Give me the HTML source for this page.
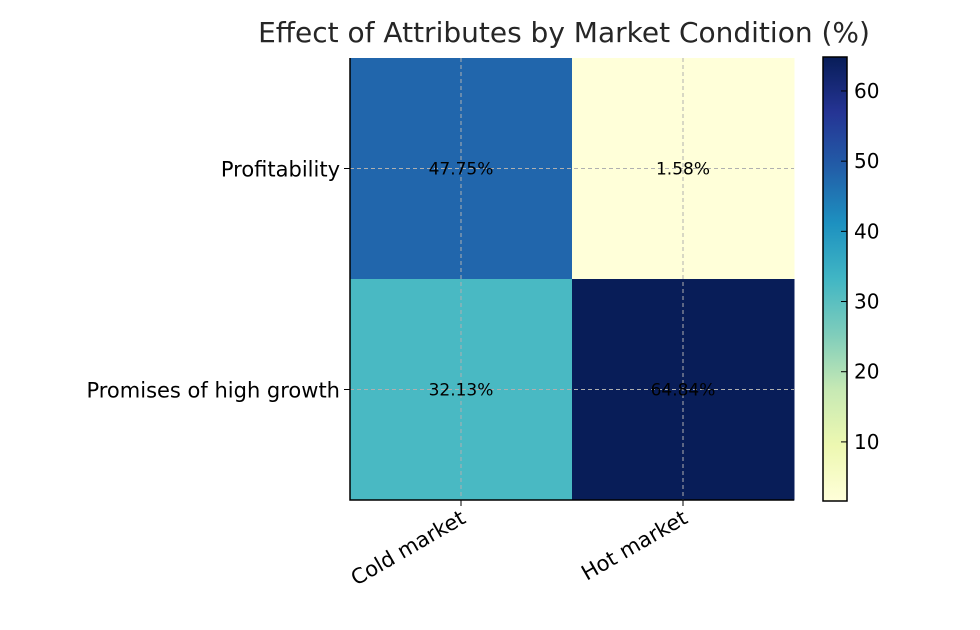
<!DOCTYPE html>
<html><head><meta charset="utf-8"><style>
body{margin:0;background:#fff}
svg{display:block;font-family:"DejaVu Sans","Liberation Sans",sans-serif}
</style></head><body>
<svg id="chart" width="980" height="630" viewBox="0 0 980 630">
<text x="564" y="42" text-anchor="middle" font-size="28" fill="#262626">Effect of Attributes by Market Condition (%)</text>
<defs><linearGradient id="cbg" x1="0" y1="1" x2="0" y2="0">
<stop offset="0" stop-color="#ffffd9"/><stop offset="0.125" stop-color="#edf8b1"/><stop offset="0.25" stop-color="#c7e9b4"/><stop offset="0.375" stop-color="#7fcdbb"/><stop offset="0.5" stop-color="#41b6c4"/><stop offset="0.625" stop-color="#1d91c0"/><stop offset="0.75" stop-color="#225ea8"/><stop offset="0.875" stop-color="#253494"/><stop offset="1" stop-color="#081d58"/></linearGradient></defs>
<g id="cells"></g><g id="grid"></g><g id="annot"></g><g id="axes"></g><g id="cbar"></g>
</svg>
<script>
const rows=["Profitability","Promises of high growth"];
const cols=["Cold market","Hot market"];
const values=[[47.75,1.58],[32.13,64.84]];
const cbTicks=[10,20,30,40,50,60];
const NS="http://www.w3.org/2000/svg";
const L=350,R=794,T=58,B=500;
const vmin=Math.min(...values.flat()),vmax=Math.max(...values.flat());
const cw=(R-L)/cols.length,ch=(B-T)/rows.length;
const stops=["#ffffd9","#edf8b1","#c7e9b4","#7fcdbb","#41b6c4","#1d91c0","#225ea8","#253494","#081d58"];
function hex(h){return[1,3,5].map(i=>parseInt(h.substr(i,2),16));}
function cmap(v){let t=(v-vmin)/(vmax-vmin);t=Math.max(0,Math.min(1,t))*(stops.length-1);const i=Math.min(Math.floor(t),stops.length-2),f=t-i;const a=hex(stops[i]),b=hex(stops[i+1]);return"rgb("+a.map((x,k)=>Math.round(x+(b[k]-x)*f)).join(",")+")";}
function mk(tag,attrs,parent,txt){const e=document.createElementNS(NS,tag);for(const k in attrs)e.setAttribute(k,attrs[k]);if(txt!==undefined)e.textContent=txt;document.getElementById(parent).appendChild(e);return e;}
const xC=j=>L+cw*(j+0.5),yC=i=>T+ch*(i+0.5);
values.forEach((row,i)=>row.forEach((v,j)=>{
const r=mk("rect",{x:L+cw*j,y:T+ch*i,width:cw+0.5,height:ch+0.5,fill:cmap(v)},"cells");


const t=mk("text",{x:xC(j),y:yC(i)+6,"text-anchor":"middle","font-size":"17",fill:"#000"},"annot",v.toFixed(2)+"%");


}));
cols.forEach((c,j)=>{
const g=mk("line",{x1:xC(j),x2:xC(j),y1:T,y2:B,stroke:"#b0b0b0","stroke-dasharray":"4,3","stroke-width":"1"},"grid");


mk("line",{x1:xC(j),x2:xC(j),y1:B,y2:B+6,stroke:"#000"},"axes");
const t=mk("text",{x:0,y:0,"text-anchor":"end","font-size":"21",fill:"#000",transform:"translate("+(xC(j)+6)+","+(B+22)+") rotate(-30)"},"axes",c);


});
rows.forEach((r,i)=>{
const g=mk("line",{x1:L,x2:R,y1:yC(i),y2:yC(i),stroke:"#b0b0b0","stroke-dasharray":"4,3","stroke-width":"1"},"grid");


mk("line",{x1:L-6,x2:L,y1:yC(i),y2:yC(i),stroke:"#000"},"axes");
const t=mk("text",{x:L-10,y:yC(i)+8,"text-anchor":"end","font-size":"21",fill:"#000"},"axes",r);


});
const sp=mk("path",{d:`M${L},${T}V${B}H${R}`,fill:"none",stroke:"#000","stroke-width":"1.5"},"axes");


const CL=823,CR=847,CT=57,CB=501;
const cy=v=>CB-(v-vmin)/(vmax-vmin)*(CB-CT);
const cb=mk("rect",{x:CL,y:CT,width:CR-CL,height:CB-CT,fill:"url(#cbg)",stroke:"#000","stroke-width":"1.5"},"cbar");


cbTicks.forEach(v=>{
mk("line",{x1:CR-6,x2:CR,y1:cy(v),y2:cy(v),stroke:"#000"},"cbar");
const t=mk("text",{x:CR+7,y:cy(v)+7,"font-size":"20",fill:"#000"},"cbar",String(v));


});
</script>
</body></html>
